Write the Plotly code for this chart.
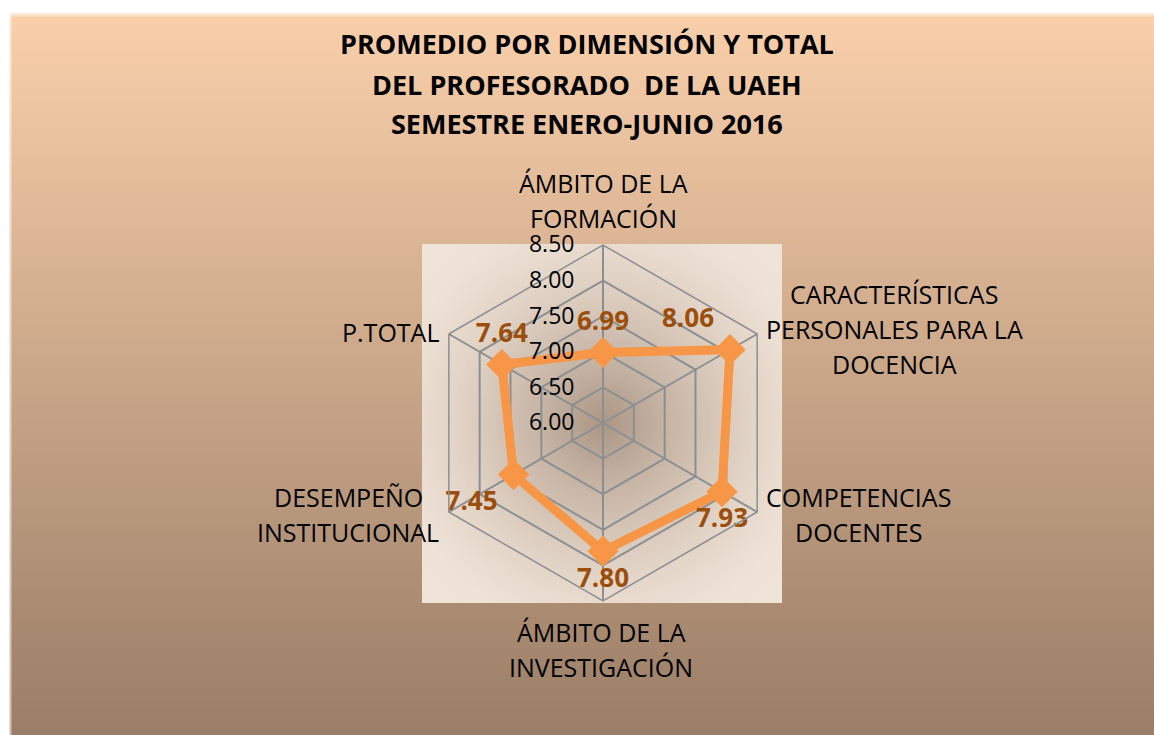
import base64, struct, zlib
import numpy as np
import plotly.graph_objects as go

# ---------------- data ----------------
categories = [
    "ÁMBITO DE LA<br>FORMACIÓN",
    "CARACTERÍSTICAS<br>PERSONALES PARA LA<br>DOCENCIA",
    "COMPETENCIAS<br>DOCENTES",
    "ÁMBITO DE LA<br>INVESTIGACIÓN",
    "DESEMPEÑO<br>INSTITUCIONAL",
    "P.TOTAL",
]
values = [6.99, 8.06, 7.93, 7.80, 7.45, 7.64]
radial_ticks = [6.00, 6.50, 7.00, 7.50, 8.00, 8.50]
title_lines = [
    "PROMEDIO POR DIMENSIÓN Y TOTAL",
    "DEL PROFESORADO  DE LA UAEH",
    "SEMESTRE ENERO-JUNIO 2016",
]

W, H = 1154, 735
FONT = "Open Sans"

# ---------------- background image (gradient) ----------------
def png_uri(arr):
    h, w, _ = arr.shape
    raw = b"".join(b"\x00" + arr[i].tobytes() for i in range(h))
    def chunk(tag, data):
        c = struct.pack(">I", len(data)) + tag + data
        return c + struct.pack(">I", zlib.crc32(tag + data) & 0xFFFFFFFF)
    png = b"\x89PNG\r\n\x1a\n"
    png += chunk(b"IHDR", struct.pack(">IIBBBBB", w, h, 8, 2, 0, 0, 0))
    png += chunk(b"IDAT", zlib.compress(raw, 9))
    png += chunk(b"IEND", b"")
    return "data:image/png;base64," + base64.b64encode(png).decode()

yy, xx = np.mgrid[0:H, 0:W].astype(float)
t = np.clip((yy - 14) / (H - 14), 0, 1)[..., None]
top = np.array([250, 208, 171], float)
bot = np.array([154, 126, 103], float)
img = top * (1 - t) + bot * t
# white margins
wx = np.clip((xx - 8) / 4.0, 0, 1)[..., None]
wy = np.clip((yy - 11) / 6.0, 0, 1)[..., None]
wgt = wx * wy
img = img * wgt + 255 * (1 - wgt)
# inner square with radial gradient
x0, x1, y0, y1 = 422, 782, 244, 603
cx, cy = 603, 423
r = np.hypot(xx - cx, yy - cy)
wr = np.clip(1 - r / 230.0, 0, 1) ** 1.5
light = np.array([240, 228, 216], float)
dark = np.array([172, 150, 132], float)
inner = light * (1 - wr[..., None]) + dark * wr[..., None]
mask = (xx >= x0) & (xx < x1) & (yy >= y0) & (yy < y1)
img[mask] = inner[mask]
img = np.clip(img, 0, 255).astype(np.uint8)
bg_uri = png_uri(img)

# ---------------- figure ----------------
R = 178
dom_x = [(cx - R) / W, (cx + R) / W]
dom_y = [(H - (cy + R)) / H, (H - (cy - R)) / H]

theta = categories + [categories[0]]
rvals = values + [values[0]]
positions = ["top center", "top left", "bottom center", "bottom center", "bottom left", "top center"]

fig = go.Figure()
fig.add_trace(go.Scatterpolar(
    r=rvals, theta=theta, mode="lines",
    line=dict(color="#F79646", width=9),
    hoverinfo="skip", showlegend=False,
))
fig.add_trace(go.Scatterpolar(
    r=values, theta=categories, mode="markers+text",
    marker=dict(symbol="diamond", size=24, color="#F79646"),
    text=[f"{v:.2f}" for v in values],
    textposition=positions,
    textfont=dict(family=FONT, size=26, color="#9C4E0C", weight="bold"),
    showlegend=False,
))

gridc = "#8C8F91"
fig.update_layout(
    width=W, height=H,
    margin=dict(l=0, r=0, t=0, b=0),
    paper_bgcolor="white",
    plot_bgcolor="rgba(0,0,0,0)",
    font=dict(family=FONT, color="black"),
    images=[dict(source=bg_uri, xref="paper", yref="paper", x=0, y=1,
                 sizex=1, sizey=1, xanchor="left", yanchor="top",
                 sizing="stretch", layer="below")],
    polar=dict(
        domain=dict(x=dom_x, y=dom_y),
        bgcolor="rgba(0,0,0,0)",
        gridshape="linear",
        radialaxis=dict(
            range=[6, 8.5], tickvals=radial_ticks,
            ticktext=[f"{v:.2f}" for v in radial_ticks],
            angle=90, tickangle=90, side="counterclockwise",
            showline=False, showgrid=True, gridcolor=gridc, gridwidth=1.5,
            ticks="outside", ticklen=20, tickcolor="rgba(0,0,0,0)",
            tickfont=dict(family=FONT, size=23, color="black"),
        ),
        angularaxis=dict(
            rotation=90, direction="clockwise",
            showticklabels=False, ticks="",
            showline=True, linecolor=gridc, linewidth=1.5,
            showgrid=True, gridcolor=gridc, gridwidth=1.5,
        ),
    ),
)

annotations = []
for i, line in enumerate(title_lines):
    annotations.append(dict(text=f"<b>{line}</b>", x=587 / W, y=1 - (44 + 40 * i) / H,
                            xref="paper", yref="paper", showarrow=False,
                            xanchor="center", yanchor="middle",
                            font=dict(family=FONT, size=27, color="black")))

# category label placement (center x, first-line center y)
label_pos = [
    (603, 183),
    (894, 294),
    (858, 497),
    (601, 632),
    (348, 497),
    (390, 332),
]
for cat, (lx, ly) in zip(categories, label_pos):
    for j, line in enumerate(cat.split("<br>")):
        annotations.append(dict(text=line, x=lx / W, y=1 - (ly + 35 * j) / H,
                                xref="paper", yref="paper", showarrow=False,
                                xanchor="center", yanchor="middle",
                                font=dict(family=FONT, size=25, color="black")))
fig.update_layout(annotations=annotations)

fig.write_html("out.html", post_script="document.body.style.margin='0';",
               config={"displayModeBar": False})
